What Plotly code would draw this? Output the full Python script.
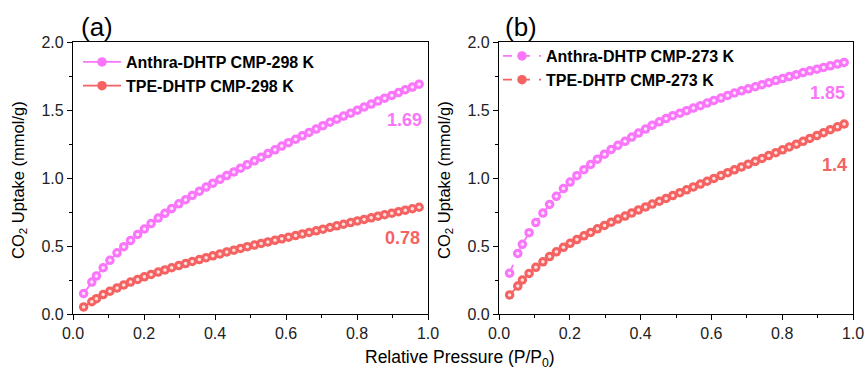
import plotly.graph_objects as go

# Relative pressure (P/P0) sampling points
pressure = [0.030, 0.053, 0.066, 0.085, 0.104, 0.124, 0.143, 0.162, 0.182, 0.201,
            0.220, 0.240, 0.259, 0.278, 0.298, 0.317, 0.336, 0.356, 0.375, 0.394,
            0.414, 0.433, 0.453, 0.472, 0.491, 0.511, 0.530, 0.549, 0.569, 0.588,
            0.607, 0.627, 0.646, 0.665, 0.685, 0.704, 0.724, 0.743, 0.762, 0.782,
            0.801, 0.820, 0.840, 0.859, 0.878, 0.898, 0.917, 0.936, 0.956, 0.975]

anthra_298 = [0.15, 0.235, 0.28, 0.34, 0.395, 0.45, 0.495, 0.54, 0.585, 0.625,
              0.665, 0.705, 0.74, 0.775, 0.81, 0.84, 0.872, 0.903, 0.933, 0.962,
              0.99, 1.018, 1.045, 1.072, 1.098, 1.126, 1.153, 1.18, 1.207, 1.235,
              1.26, 1.285, 1.31, 1.335, 1.36, 1.385, 1.41, 1.432, 1.455, 1.477,
              1.499, 1.522, 1.544, 1.566, 1.587, 1.607, 1.628, 1.649, 1.669, 1.69]

tpe_298 = [0.052, 0.09, 0.113, 0.143, 0.168, 0.192, 0.214, 0.235, 0.254, 0.273,
           0.291, 0.308, 0.324, 0.34, 0.356, 0.371, 0.386, 0.4, 0.414, 0.428,
           0.442, 0.456, 0.469, 0.482, 0.495, 0.507, 0.519, 0.53, 0.542, 0.553,
           0.565, 0.577, 0.589, 0.6, 0.612, 0.624, 0.636, 0.648, 0.66, 0.672,
           0.684, 0.695, 0.707, 0.719, 0.73, 0.741, 0.752, 0.763, 0.774, 0.785]

anthra_273 = [0.30, 0.445, 0.512, 0.598, 0.672, 0.742, 0.806, 0.865, 0.922, 0.97,
              1.017, 1.061, 1.1, 1.138, 1.175, 1.21, 1.24, 1.27, 1.301, 1.33,
              1.36, 1.388, 1.413, 1.437, 1.458, 1.477, 1.495, 1.514, 1.532, 1.551,
              1.57, 1.588, 1.607, 1.625, 1.641, 1.656, 1.671, 1.686, 1.701, 1.716,
              1.731, 1.746, 1.76, 1.775, 1.788, 1.8, 1.813, 1.825, 1.838, 1.85]

tpe_273 = [0.14, 0.205, 0.25, 0.298, 0.343, 0.384, 0.422, 0.457, 0.49, 0.52,
           0.547, 0.575, 0.6, 0.626, 0.651, 0.675, 0.698, 0.72, 0.743, 0.765,
           0.787, 0.808, 0.829, 0.85, 0.871, 0.892, 0.913, 0.934, 0.955, 0.976,
           0.997, 1.018, 1.039, 1.06, 1.081, 1.102, 1.123, 1.144, 1.165, 1.186,
           1.207, 1.228, 1.249, 1.27, 1.291, 1.312, 1.333, 1.355, 1.376, 1.397]

x_ticks = [0.0, 0.2, 0.4, 0.6, 0.8, 1.0]
y_ticks = [0.0, 0.5, 1.0, 1.5, 2.0]

PINK = "#F975F9"
RED = "#F56262"
FONT = "Liberation Sans, Arial, sans-serif"

W, H = 867, 372
def px_x(p):
    return p / W
def px_y(p):
    return 1 - p / H

fig = go.Figure()

def add(xs, ys, name, color, xa, ya, dash, legend):
    fig.add_trace(go.Scatter(
        x=xs, y=ys, name=f"<b>{name}</b>", mode="lines+markers",
        xaxis=xa, yaxis=ya, legend=legend,
        line=dict(color=color, width=1.8, dash=dash),
        marker=dict(size=9.5, color=color, line=dict(width=0)),
    ))
    # specular highlight on each sphere-like marker
    fig.add_trace(go.Scatter(
        x=xs, y=ys, mode="markers", xaxis=xa, yaxis=ya, showlegend=False,
        hoverinfo="skip",
        marker=dict(size=3.5, color="white", opacity=0.8, line=dict(width=0)),
    ))

add(pressure, anthra_298, "Anthra-DHTP CMP-298 K", PINK, "x", "y", "solid", "legend")
add(pressure, tpe_298, "TPE-DHTP CMP-298 K", RED, "x", "y", "solid", "legend")
add(pressure, anthra_273, "Anthra-DHTP CMP-273 K", PINK, "x2", "y2", "dash", "legend2")
add(pressure, tpe_273, "TPE-DHTP CMP-273 K", RED, "x2", "y2", "dash", "legend2")

ydom = [px_y(314), px_y(42)]
axis_common = dict(
    showline=True, linecolor="black", linewidth=1.3, mirror=True,
    ticks="outside", ticklen=5, tickwidth=1.2, tickcolor="black",
    showgrid=False, zeroline=False, automargin=False,
    tickfont=dict(family=FONT, size=16, color="#222"),
)
minor_x = dict(dtick=0.1, ticks="outside", ticklen=3, tickwidth=1.2, tickcolor="black")
minor_y = dict(dtick=0.25, ticks="outside", ticklen=3, tickwidth=1.2, tickcolor="black")
fig.update_layout(
    width=W, height=H, margin=dict(l=0, r=0, t=0, b=0, autoexpand=False),
    plot_bgcolor="white", paper_bgcolor="white",
    font=dict(family=FONT, color="black"),
    xaxis=dict(domain=[px_x(73), px_x(428)], range=[0, 1.0], tickvals=x_ticks,
               tickformat=".1f", minor=minor_x, anchor="y", **axis_common),
    yaxis=dict(domain=ydom, range=[0, 2.0], tickvals=y_ticks, tickformat=".1f",
               minor=minor_y, anchor="x", **axis_common),
    xaxis2=dict(domain=[px_x(499), px_x(853)], range=[0, 1.0], tickvals=x_ticks,
                tickformat=".1f", minor=minor_x, anchor="y2", **axis_common),
    yaxis2=dict(domain=ydom, range=[0, 2.0], tickvals=y_ticks, tickformat=".1f",
                minor=minor_y, anchor="x2", **axis_common),
    legend=dict(x=px_x(78), y=px_y(45), xanchor="left", yanchor="top",
                bgcolor="rgba(0,0,0,0)", font=dict(family=FONT, size=16, color="black"),
                tracegroupgap=0, itemwidth=38),
    legend2=dict(x=px_x(498), y=px_y(39), xanchor="left", yanchor="top",
                 bgcolor="rgba(0,0,0,0)", font=dict(family=FONT, size=16, color="black"),
                 tracegroupgap=0, itemwidth=38),
)

ann = [
    dict(text="(a)", x=px_x(79), y=px_y(27), xanchor="left", yanchor="middle", font=dict(size=26)),
    dict(text="(b)", x=px_x(503), y=px_y(27), xanchor="left", yanchor="middle", font=dict(size=26)),
    dict(text="<b>1.69</b>", x=px_x(424), y=px_y(120), xanchor="right", yanchor="middle",
         font=dict(size=18, color=PINK)),
    dict(text="<b>0.78</b>", x=px_x(422), y=px_y(238), xanchor="right", yanchor="middle",
         font=dict(size=18, color=RED)),
    dict(text="<b>1.85</b>", x=px_x(847), y=px_y(93), xanchor="right", yanchor="middle",
         font=dict(size=18, color=PINK)),
    dict(text="<b>1.4</b>", x=px_x(849), y=px_y(165), xanchor="right", yanchor="middle",
         font=dict(size=18, color=RED)),
    dict(text="CO<sub>2</sub> Uptake (mmol/g)", x=px_x(19), y=px_y(180), textangle=-90,
         xanchor="center", yanchor="middle", font=dict(size=16.5)),
    dict(text="CO<sub>2</sub> Uptake (mmol/g)", x=px_x(445), y=px_y(180), textangle=-90,
         xanchor="center", yanchor="middle", font=dict(size=16.5)),
    dict(text="Relative Pressure (P/P<sub>0</sub>)", x=px_x(460), y=px_y(358),
         xanchor="center", yanchor="middle", font=dict(size=17.5)),
]
for a in ann:
    a.update(xref="paper", yref="paper", showarrow=False)
    a.setdefault("font", {})
    a["font"].setdefault("family", FONT)
    a["font"].setdefault("color", "black")
fig.update_layout(annotations=ann)

fig.write_html("out.html")
